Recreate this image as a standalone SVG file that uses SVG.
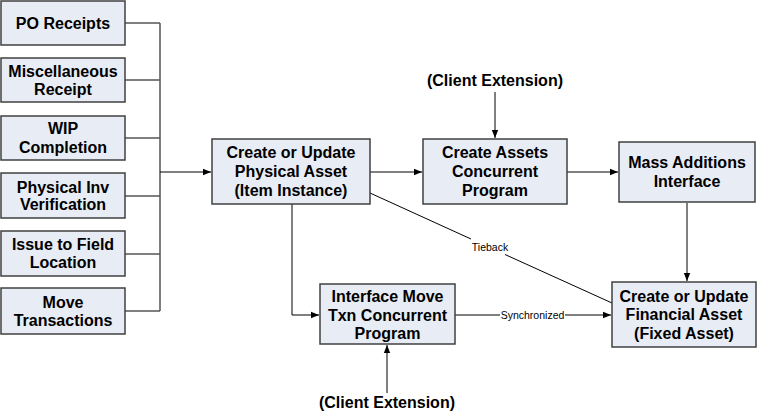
<svg xmlns="http://www.w3.org/2000/svg" width="757" height="413" viewBox="0 0 757 413">
<defs>
<marker id="arr" viewBox="0 0 10 10" refX="10" refY="5" markerWidth="8" markerHeight="8" markerUnits="userSpaceOnUse" orient="auto">
<path d="M0,1 L10,5 L0,9 z" fill="#000"/>
</marker>
<style>
.box{fill:#e8ecf5;stroke:#404040;stroke-width:1.5}
.t{font-family:"Liberation Sans",Arial,sans-serif;font-weight:bold;font-size:16px;text-anchor:middle;fill:#000}
.lbl{font-family:"Liberation Sans",Arial,sans-serif;font-size:10.5px;text-anchor:middle;fill:#000}
.c{fill:none;stroke:#000;stroke-width:1}
.g{fill:none;stroke:#555;stroke-width:1.5}
</style>
</defs>
<rect width="757" height="413" fill="#fff"/>
<g id="connectors">
<path class="g" d="M125,23 H160 M125,80 H160 M125,138 H160 M125,196 H160 M125,254 H160 M125,311 H160 M160,23 V311"/>
<path class="c" d="M160,172 H211" marker-end="url(#arr)"/>
<path class="c" d="M370,172 H422" marker-end="url(#arr)"/>
<path class="c" d="M567,172 H618" marker-end="url(#arr)"/>
<path class="c" d="M495,92 V138" marker-end="url(#arr)"/>
<path class="c" d="M687,203 V281" marker-end="url(#arr)"/>
<path class="c" d="M292,204 V315 H319" marker-end="url(#arr)"/>
<path class="c" d="M387,393 V345" marker-end="url(#arr)"/>
<path class="c" d="M455,315 H500 M565,315 H611" marker-end="url(#arr)"/>
<path class="c" d="M370,193 L471,239 M505,254.5 L612,303"/>
<text class="lbl" x="532.5" y="318.5">Synchronized</text>
<text class="lbl" x="490" y="251">Tieback</text>
</g>
<g id="po"><rect class="box" x="1" y="1" width="124" height="44"/><text class="t" x="63" y="29">PO Receipts</text></g>
<g id="misc"><rect class="box" x="1" y="58" width="124" height="44"/><text class="t" x="63" y="76.5">Miscellaneous</text><text class="t" x="63" y="95">Receipt</text></g>
<g id="wip"><rect class="box" x="1" y="116" width="124" height="44"/><text class="t" x="63" y="134">WIP</text><text class="t" x="63" y="152.5">Completion</text></g>
<g id="phys"><rect class="box" x="1" y="173" width="124" height="45"/><text class="t" x="63" y="192.5">Physical Inv</text><text class="t" x="63" y="210">Verification</text></g>
<g id="issue"><rect class="box" x="1" y="231" width="124" height="45"/><text class="t" x="63" y="250">Issue to Field</text><text class="t" x="63" y="268">Location</text></g>
<g id="move"><rect class="box" x="1" y="288" width="124" height="46"/><text class="t" x="63" y="307.5">Move</text><text class="t" x="63" y="325.5">Transactions</text></g>
<g id="physical-asset"><rect class="box" x="212" y="139" width="158" height="65"/><text class="t" x="291" y="158">Create or Update</text><text class="t" x="291" y="177">Physical Asset</text><text class="t" x="291" y="196">(Item Instance)</text></g>
<g id="create-assets"><rect class="box" x="423" y="139" width="144" height="65"/><text class="t" x="495" y="158">Create Assets</text><text class="t" x="495" y="177">Concurrent</text><text class="t" x="495" y="196">Program</text></g>
<g id="mass"><rect class="box" x="619" y="142" width="136" height="60"/><text class="t" x="687" y="167.5">Mass Additions</text><text class="t" x="687" y="186.5">Interface</text></g>
<g id="financial"><rect class="box" x="612" y="282" width="144" height="65"/><text class="t" x="684" y="301.5">Create or Update</text><text class="t" x="684" y="320">Financial Asset</text><text class="t" x="684" y="338.5">(Fixed Asset)</text></g>
<g id="interface-move"><rect class="box" x="320" y="284" width="135" height="60"/><text class="t" x="387.5" y="301.5">Interface Move</text><text class="t" x="387.5" y="320.5">Txn Concurrent</text><text class="t" x="387.5" y="338.5">Program</text></g>
<g id="client-top"><text class="t" x="495" y="86">(Client Extension)</text></g>
<g id="client-bottom"><text class="t" x="387" y="408">(Client Extension)</text></g>
</svg>
